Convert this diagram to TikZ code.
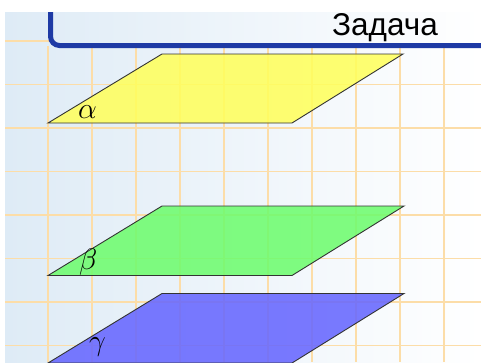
\documentclass[tikz,border=0pt]{standalone}
\usepackage{fontspec}
\newfontfamily\headfont{Liberation Sans}
\definecolor{bgblue}{RGB}{222,235,246}
\definecolor{gridorange}{RGB}{252,221,168}
\definecolor{framecol}{RGB}{30,58,165}
\definecolor{alphacol}{RGB}{255,255,90}
\definecolor{betacol}{RGB}{108,252,108}
\definecolor{gammacol}{RGB}{100,100,255}

\begin{document}
\begin{tikzpicture}[
        x=1pt, y=-1pt,
        gridline/.style={draw=gridorange, line width=1.3pt},
        frame/.style={draw=framecol, line width=5pt, rounded corners=9pt},
        plane/.style={draw=black!80, line width=0.9pt, fill opacity=0.86},
        planelabel/.style={inner sep=0pt, anchor=base west, scale=1.2, transform shape,
            font=\fontsize{24.88}{30}\selectfont},
    ]
    \useasboundingbox (0,0) rectangle (481,362);

    % background and grid
    \shade[left color=bgblue, right color=white] (5,12) rectangle (481,362);
    \foreach \gx in {48,92,...,444}
        \draw[gridline] (\gx,46) -- (\gx,362);
    \foreach \gy in {84.5,128,171.5,215,258.5,302,345.5}
        \draw[gridline] (5,\gy) -- (481,\gy);
    \draw[gridline] (5,41) -- (50,41);

    % header
    \draw[frame] (50.5,12) -- (50.5,45.5) -- (481,45.5);
    \node[inner sep=0pt, anchor=base west, font=\headfont\fontsize{31.5}{36}\selectfont]
        (title) at (332,35) {Задача};

    % planes
    \fill[plane, fill=alphacol] (48,123) -- (292,123) -- (403,54) -- (162,54) -- cycle;
    \fill[plane, fill=betacol] (48,275.5) -- (292,275.5) -- (404,206) -- (162,206) -- cycle;
    \fill[plane, fill=gammacol] (48,363) -- (292,363) -- (404,293.5) -- (162,293.5) -- cycle;

    \node[planelabel] (alpha) at (78,118) {$\alpha$};
    \node[planelabel] (beta) at (79,269) {$\beta$};
    \node[planelabel] (gamma) at (89,350) {$\gamma$};

\end{tikzpicture}
\end{document}
